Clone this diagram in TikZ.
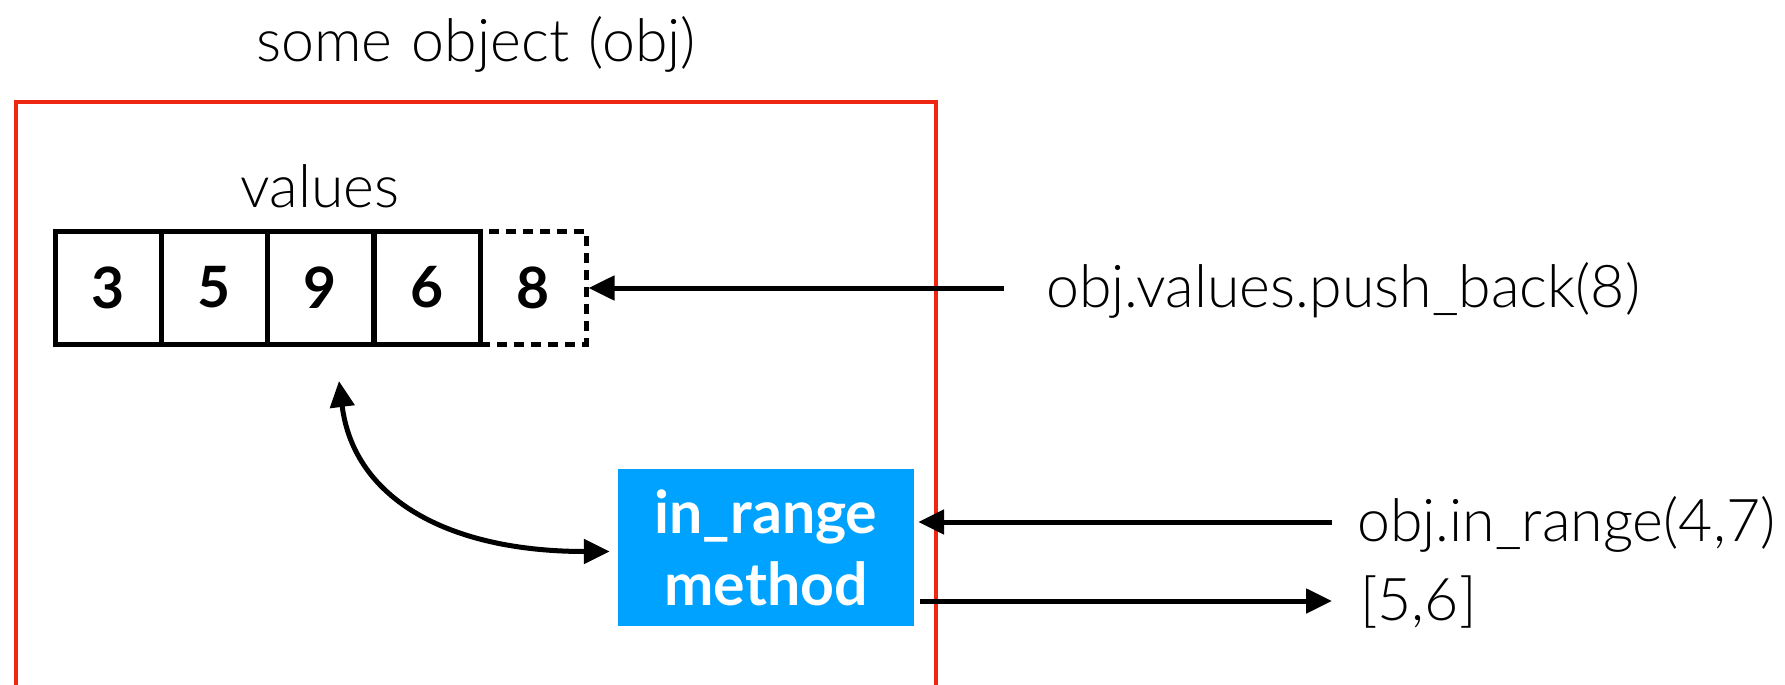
\documentclass[tikz,border=0pt]{standalone}
\usepackage{fontspec}
\setmainfont{Lato}[UprightFont={* Light},BoldFont={* Bold}]
\usetikzlibrary{arrows.meta}
\definecolor{framered}{RGB}{238,38,18}
\definecolor{methodblue}{RGB}{0,162,255}
\begin{document}
\begin{tikzpicture}[x=1pt,y=-1pt,
  lbl/.style={font=\fontsize{59}{70}\selectfont, inner sep=0pt},
  cell/.style={draw, line width=5pt, minimum width=106pt, minimum height=113pt, inner sep=0pt,
    font=\fontsize{57}{67}\selectfont\bfseries},
  arr/.style={line width=5pt, -{Triangle[length=26pt,width=24pt]}},
  darr/.style={line width=5pt, {Triangle[length=26pt,width=24pt]}-{Triangle[length=26pt,width=24pt]}},
  method/.style={fill=methodblue, minimum width=296pt, minimum height=157pt, inner sep=0pt,
    text=white, font=\fontsize{59}{72}\selectfont\bfseries, align=center}]
\useasboundingbox (0,0) rectangle (1785,685);
\clip (0,0) rectangle (1785,685);
% object frame
\draw[framered, line width=4pt] (16,102) rectangle (936,720);
\node[lbl, anchor=base] (title) at (476,62) {some\hspace{0.33em}object\hspace{0.33em}(obj)};
\node[lbl, anchor=base] (vals) at (320,207) {values};
% array
\node[cell, dash pattern=on 10pt off 7pt] (c8) at (533,287.5) {8};
\node[cell] (c3) at (108,287.5) {3};
\node[cell] (c5) at (214,287.5) {5};
\node[cell] (c9) at (320.5,287.5) {9};
\node[cell] (c6) at (427,287.5) {6};
% method
\node[method] (inr) at (766,547.5) {in\_range\\method};
% texts
\node[lbl, anchor=base west] (push) at (1046,307) {obj.values.push\_back(8)};
\node[lbl, anchor=base west] (call) at (1357,541) {obj.in\_range(4,7)};
\node[lbl, anchor=base west] (res) at (1360,620) {[5,6]};
% connector ends
\coordinate (pushstart) at (1004,288);
\coordinate (callstart) at (1332,522);
\coordinate (resend) at (1332,601);
\coordinate (ctop) at (339,381);
% connectors
\draw[arr] (pushstart) -- (c8.east |- pushstart);
\draw[arr, shorten >=4pt] (callstart) -- (inr.east |- callstart);
\draw[arr, shorten <=6pt] (inr.east |- resend) -- (resend);
\draw[darr, shorten >=8pt] (ctop) .. controls (354,500) and (450,551.5) .. ([yshift=-4pt]inr.west);
\end{tikzpicture}
\end{document}
